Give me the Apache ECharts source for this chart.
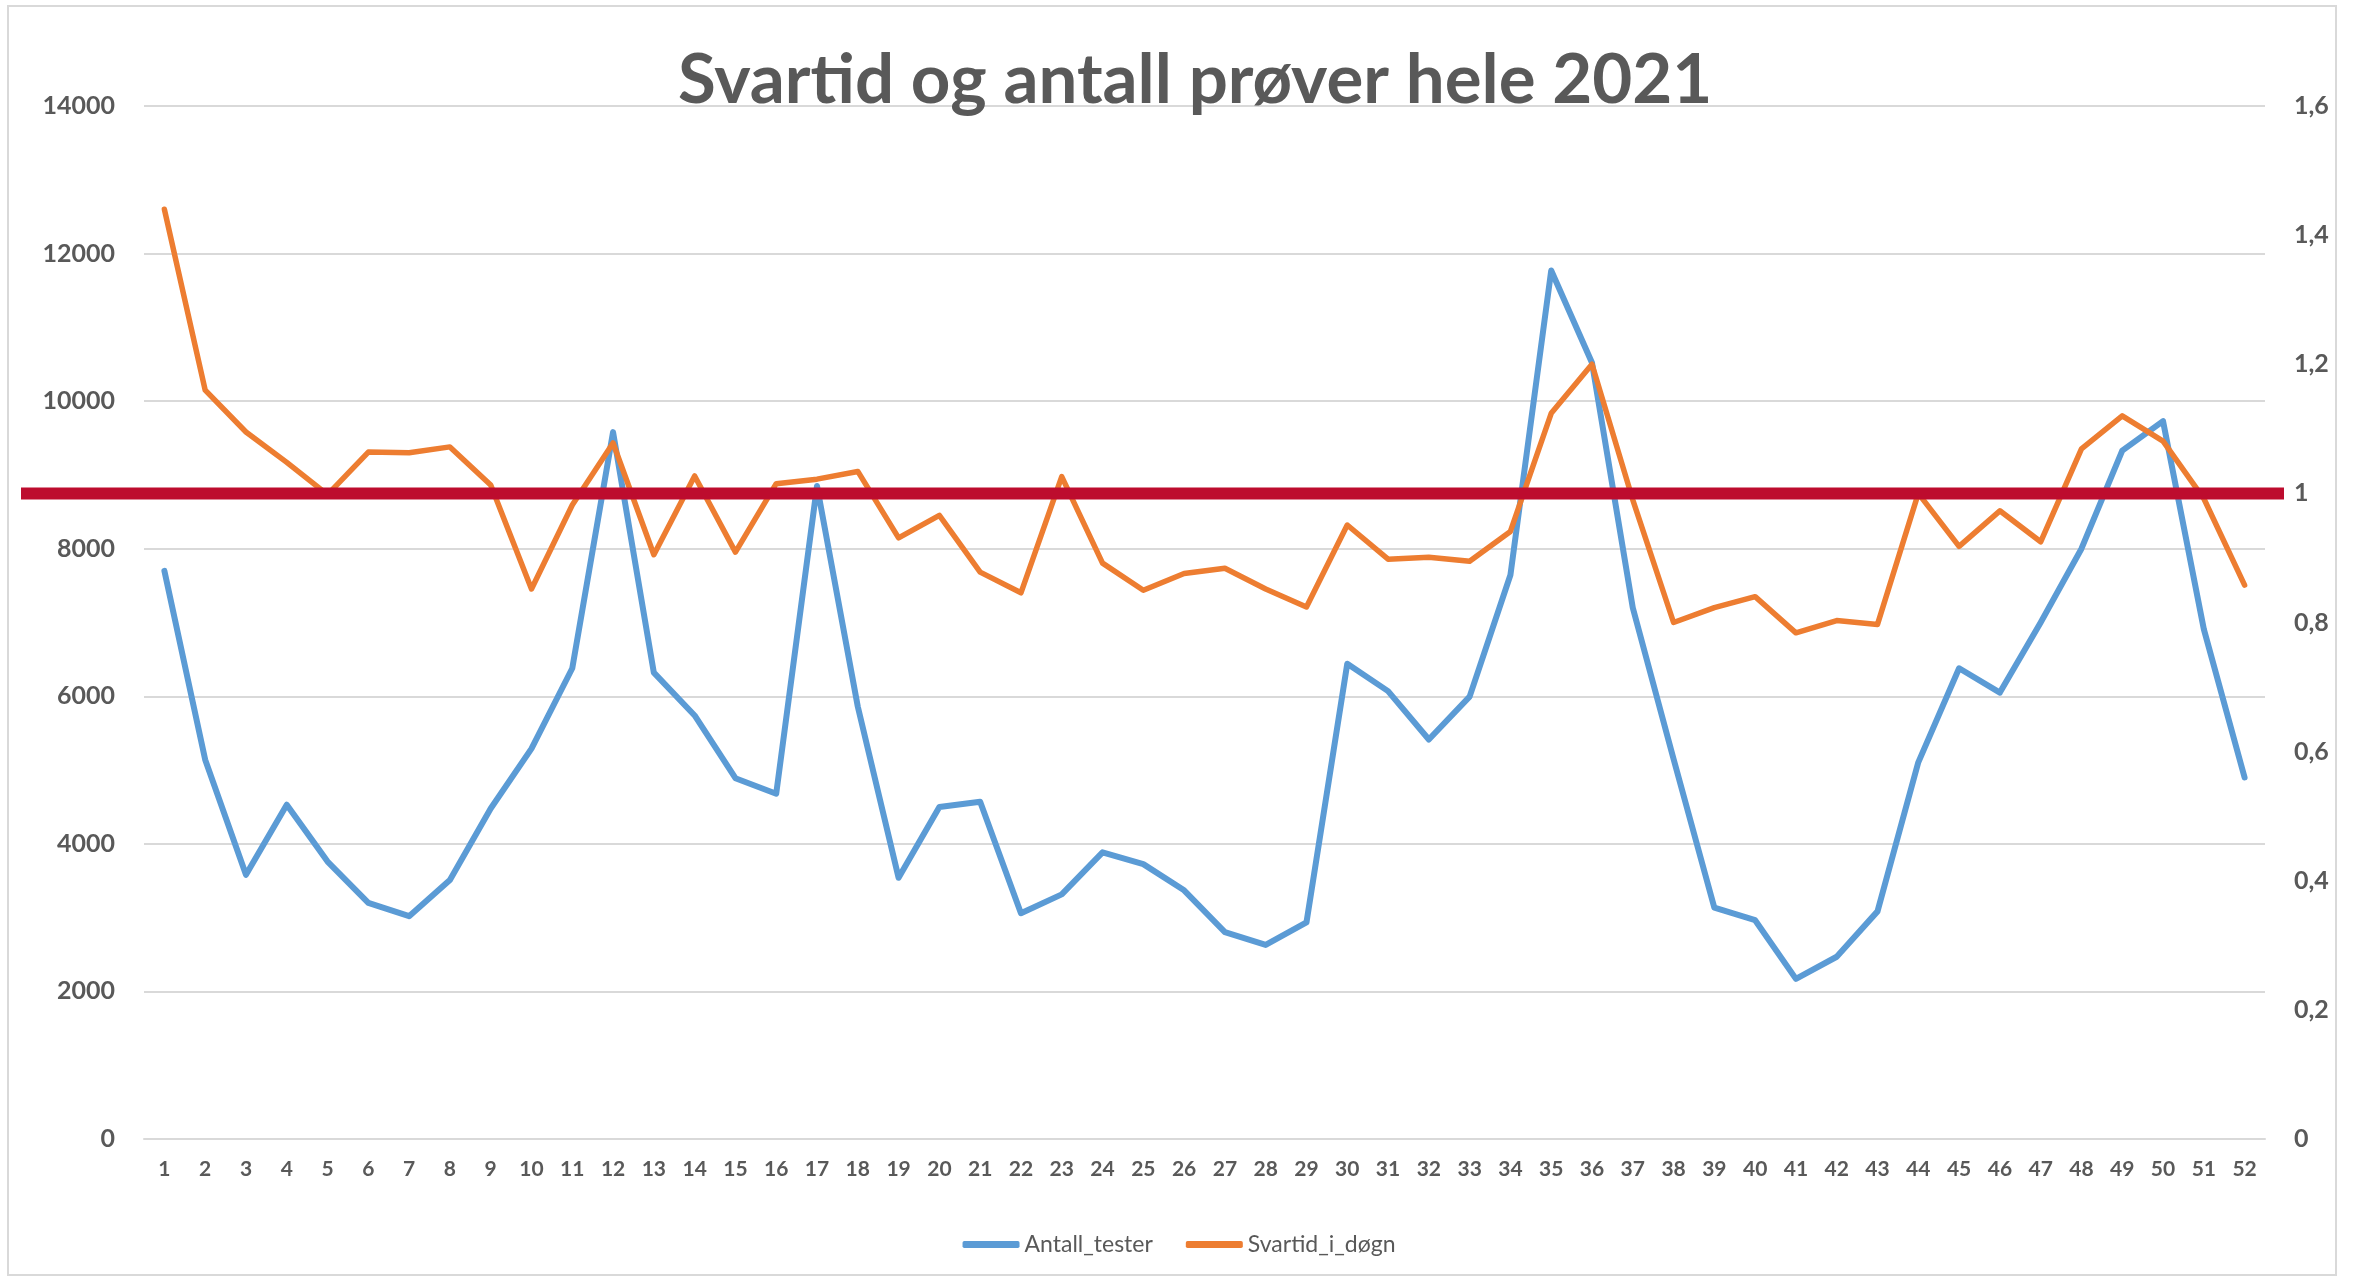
<!DOCTYPE html>
<html>
<head>
<meta charset="utf-8">
<title>Svartid og antall prøver hele 2021</title>
<script src="https://cdn.jsdelivr.net/npm/echarts@6/dist/echarts.min.js"></script>
<style>
html, body { margin: 0; padding: 0; background: #fff; }
#chart { width: 2358px; height: 1279px; }
</style>
</head>
<body>
<div id="chart"></div>
<script>
// uke 1..52
var uker = [];
for (var i = 1; i <= 52; i++) uker.push(String(i));

var antallTester = [
	7700, 5140, 3580, 4530, 3760, 3200, 3020, 3510, 4480, 5290,
	6380, 9580, 6320, 5740, 4890, 4680, 8850, 5860, 3540, 4500,
	4570, 3060, 3315, 3885, 3725, 3370, 2805, 2630, 2935, 6440,
	6070, 5415, 5995, 7643, 11770, 10520, 7200, 5150, 3135, 2965,
	2170, 2470, 3085, 5105, 6380, 6050, 7000, 8000, 9330, 9730,
	6910, 4900
];

var svartid = [
	1.44, 1.16, 1.095, 1.048, 0.998, 1.064, 1.063, 1.072, 1.013, 0.852,
	0.982, 1.078, 0.905, 1.027, 0.909, 1.015, 1.022, 1.034, 0.931, 0.966,
	0.878, 0.846, 1.026, 0.892, 0.850, 0.876, 0.884, 0.852, 0.824, 0.951,
	0.898, 0.901, 0.895, 0.941, 1.124, 1.2, 0.99, 0.80, 0.823, 0.84,
	0.784, 0.803, 0.797, 1.0, 0.918, 0.973, 0.925, 1.069, 1.12, 1.081,
	0.992, 0.858
];

var serieNavn = ['Antall_tester', 'Svartid_i_døgn'];
var terskel = 1;

var grå = '#595959';
var font = 'Lato, "Open Sans", sans-serif';

var chart = echarts.init(document.getElementById('chart'));

var option = {
	backgroundColor: '#ffffff',
	animation: false,
	title: {
		text: 'Svartid og antall prøver hele 2021',
		left: 678,
		top: 46,
		padding: 0,
		textStyle: {
			color: grå,
			fontFamily: font,
			fontWeight: 'bold',
			fontSize: 69
		}
	},
	legend: {
		data: serieNavn,
		left: 'center',
		top: 1228,
		icon: 'roundRect',
		itemWidth: 57,
		itemHeight: 7,
		itemGap: 33,
		textStyle: {
			color: grå,
			fontFamily: font,
			fontSize: 23
		}
	},
	grid: {
		left: 144,
		right: 93,
		top: 106,
		bottom: 140
	},
	xAxis: {
		type: 'category',
		data: uker,
		boundaryGap: true,
		axisTick: { show: false },
		axisLine: { lineStyle: { color: '#d9d9d9', width: 2 } },
		axisLabel: {
			interval: 0,
			margin: 20,
			color: grå,
			fontFamily: font,
			fontWeight: 'bold',
			fontSize: 21
		}
	},
	yAxis: [{
		type: 'value',
		min: 0,
		max: 14000,
		interval: 2000,
		axisLine: { show: false },
		axisTick: { show: false },
		splitLine: { lineStyle: { color: '#d9d9d9', width: 2 } },
		axisLabel: {
			margin: 29,
			color: grå,
			fontFamily: font,
			fontWeight: 'bold',
			fontSize: 25,
			formatter: function (v) {
				return String(v);
			}
		}
	}, {
		type: 'value',
		min: 0,
		max: 1.6,
		interval: 0.2,
		axisLine: { show: false },
		axisTick: { show: false },
		splitLine: { show: false },
		axisLabel: {
			margin: 29,
			color: grå,
			fontFamily: font,
			fontWeight: 'bold',
			fontSize: 25,
			formatter: function (v) {
				return String(+v.toFixed(1)).replace('.', ',');
			}
		}
	}],
	series: [{
		name: serieNavn[0],
		type: 'line',
		yAxisIndex: 0,
		data: antallTester,
		symbol: 'none',
		color: '#5b9bd5',
		lineStyle: { color: '#5b9bd5', width: 6, join: 'round', cap: 'round' }
	}, {
		name: serieNavn[1],
		type: 'line',
		yAxisIndex: 1,
		data: svartid,
		symbol: 'none',
		color: '#ed7d31',
		lineStyle: { color: '#ed7d31', width: 5.5, join: 'round', cap: 'round' }
	}],
	graphic: [{
		id: 'ramme',
		type: 'rect',
		z: -10,
		silent: true,
		shape: { x: 8, y: 6, width: 2328, height: 1269 },
		style: { fill: 'none', stroke: '#d9d9d9', lineWidth: 2 }
	}]
};

chart.setOption(option);

// rød terskellinje ved svartid = 1 døgn (høyre akse)
var yTerskel = chart.convertToPixel({ yAxisIndex: 1 }, terskel);
chart.setOption({
	graphic: [{
		id: 'terskel',
		type: 'line',
		z: 100,
		silent: true,
		shape: { x1: 21, y1: yTerskel, x2: 2284, y2: yTerskel },
		style: { stroke: '#bd0c2e', lineWidth: 12 }
	}]
});
</script>
</body>
</html>
